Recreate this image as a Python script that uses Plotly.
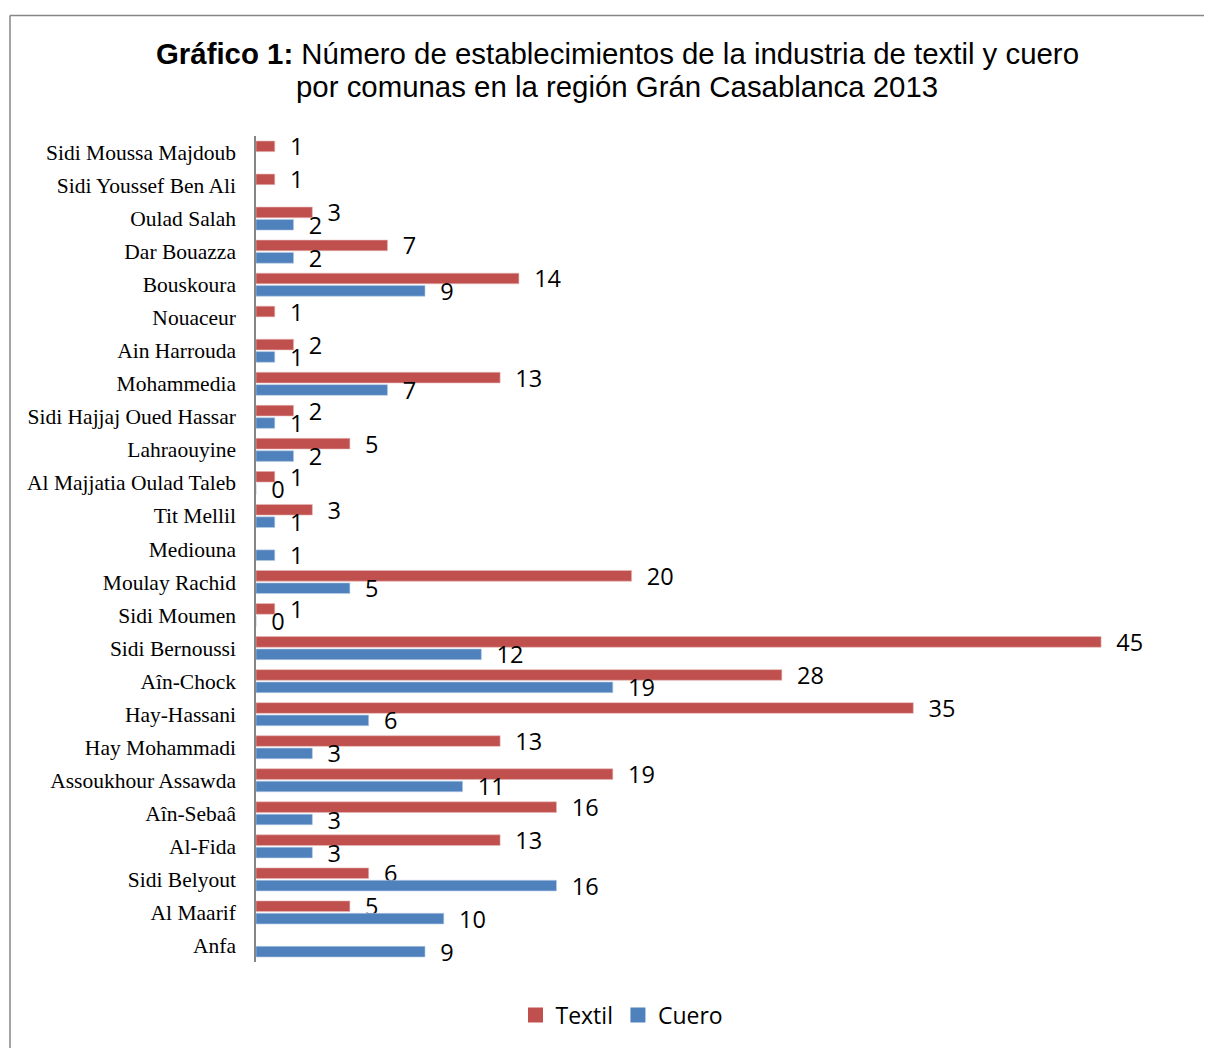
import plotly.graph_objects as go

# Communes, listed top to bottom as in the chart
comunas = [
    'Sidi Moussa Majdoub', 'Sidi Youssef Ben Ali', 'Oulad Salah', 'Dar Bouazza',
    'Bouskoura', 'Nouaceur', 'Ain Harrouda', 'Mohammedia',
    'Sidi Hajjaj Oued Hassar', 'Lahraouyine', 'Al Majjatia Oulad Taleb',
    'Tit Mellil', 'Mediouna', 'Moulay Rachid', 'Sidi Moumen', 'Sidi Bernoussi',
    'Aîn-Chock', 'Hay-Hassani', 'Hay Mohammadi', 'Assoukhour Assawda',
    'Aîn-Sebaâ', 'Al-Fida', 'Sidi Belyout', 'Al Maarif', 'Anfa',
]
textil = [1, 1, 3, 7, 14, 1, 2, 13, 2, 5, 1, 3, None, 20, 1, 45, 28, 35, 13, 19,
          16, 13, 6, 5, None]
cuero = [None, None, 2, 2, 9, None, 1, 7, 1, 2, 0, 1, 1, 5, 0, 12, 19, 6, 3, 11,
         3, 3, 16, 10, 9]

title_l1 = '<b>Gráfico 1:</b> Número de establecimientos de la industria de textil y cuero'
title_l2 = 'por comunas en la región Grán Casablanca 2013'

W, H = 1212, 1048
OFF = 8  # page body margin, figure is drawn 8px in from the window corner
ML, MR, MT, MB = 248, 42, 127.5, 94
PX_PER_UNIT = 18.78
pw, ph = W - ML - MR, H - MT - MB
xmax = pw / PX_PER_UNIT

# screen pixel -> paper coordinate
fx = lambda px: (px - OFF - ML) / pw
fy = lambda py: 1 - (py - OFF - MT) / ph

num_font = dict(family='Open Sans, sans-serif', size=23.5, color='#000000')
pad = '\u00a0\u00a0'
colors = {'Textil': '#C0504D', 'Cuero': '#4F81BD'}
edges = {'Textil': '#E6B9B8', 'Cuero': '#B9CDE5'}

fig = go.Figure()
for name, vals in [('Textil', textil), ('Cuero', cuero)]:
    fig.add_trace(go.Bar(
        name=name, y=comunas, x=vals, orientation='h',
        marker=dict(color=colors[name], line=dict(color=edges[name], width=0.6)),
        texttemplate=pad + '%{x}', textposition='outside',
        constraintext='none', cliponaxis=False, textfont=num_font,
        showlegend=False, legendgroup=name,
    ))
# legend entries with bigger square keys
for name in ['Textil', 'Cuero']:
    fig.add_trace(go.Scatter(
        name=name, x=[None], y=[None], mode='markers', legendgroup=name,
        marker=dict(symbol='square', size=15, color=colors[name]),
    ))

# outer frame of the chart area (left and top edges visible in the crop)
frame = dict(color='#868686', width=1.5)
fig.add_shape(type='line', xref='paper', yref='paper',
              x0=fx(10), x1=fx(W + 40), y0=fy(15), y1=fy(15), line=frame)
fig.add_shape(type='line', xref='paper', yref='paper',
              x0=fx(10), x1=fx(10), y0=fy(15), y1=fy(H + 40), line=frame)

title_font = dict(family='Arial, Liberation Sans, sans-serif', size=29.4, color='#000000')
for txt, yc in [(title_l1, 53), (title_l2, 86)]:
    fig.add_annotation(text=txt, xref='paper', yref='paper', x=fx(617), y=fy(yc),
                       xanchor='center', yanchor='middle', showarrow=False,
                       font=title_font)

fig.update_layout(
    width=W, height=H,
    margin=dict(l=ML, r=MR, t=MT, b=MB),
    paper_bgcolor='#FFFFFF', plot_bgcolor='#FFFFFF',
    barmode='group', bargap=0.25, bargroupgap=0.14,
    legend=dict(
        orientation='h', xref='container', yref='container',
        x=(622 - OFF) / W, xanchor='center', y=1 - (1015 - OFF) / H, yanchor='middle',
        font=dict(family='Open Sans, sans-serif', size=23, color='#000000'),
        itemclick=False, itemdoubleclick=False,
    ),
    showlegend=True,
)
fig.update_xaxes(visible=False, range=[0, xmax], showgrid=False, zeroline=False)
fig.update_yaxes(
    autorange='reversed', showgrid=False, zeroline=False,
    showline=True, linecolor='#868686', linewidth=1.5,
    ticks='', ticklabelstandoff=14,
    tickfont=dict(family='Times New Roman, Liberation Serif, serif', size=21.5, color='#000000'),
)

fig.write_html('out.html')
